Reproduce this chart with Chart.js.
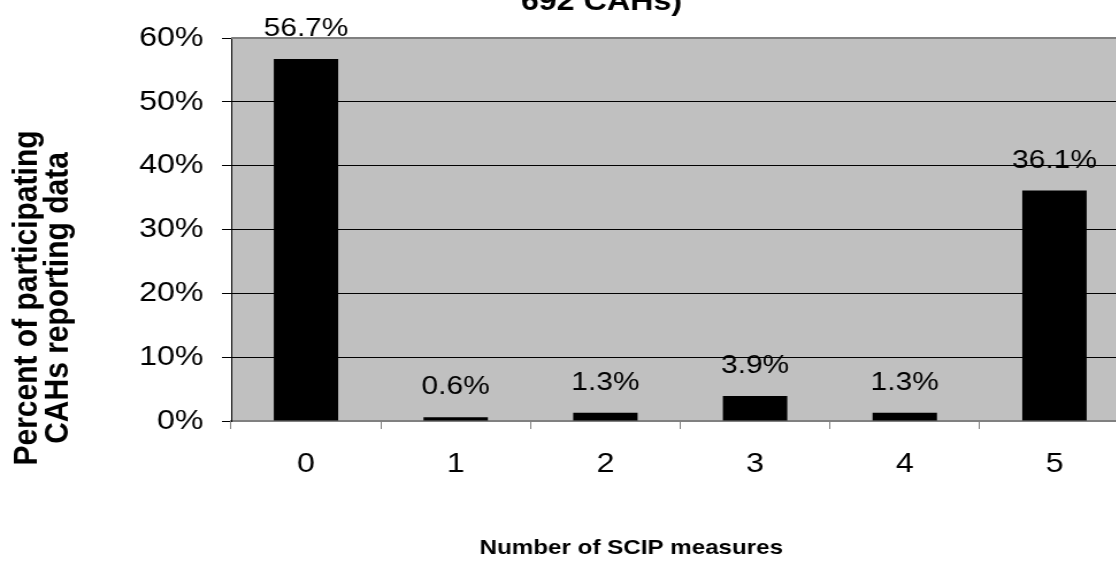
<!DOCTYPE html>
<html>
<head>
<meta charset="utf-8">
<script src="https://cdn.jsdelivr.net/npm/chart.js@4.4.0/dist/chart.umd.min.js"></script>
<style>
  html, body { margin: 0; padding: 0; background: #fff; overflow: hidden; }
  /* the original picture is stretched sideways, so draw narrow and stretch */
  #wrap { width: 983px; height: 562px; transform: scaleX(1.15); transform-origin: 0 0; }
</style>
</head>
<body>
<div id="wrap"><canvas id="chart"></canvas></div>
<script>
// data
const categories = ["0", "1", "2", "3", "4", "5"];
const percentValues = [56.7, 0.6, 1.3, 3.9, 1.3, 36.1];
const yTicks = [0, 10, 20, 30, 40, 50, 60];
const titleTail = "692 CAHs)";
const xTitle = "Number of SCIP measures";
const yTitle = ["Percent of participating", "CAHs reporting data"];

const FONT = "'Liberation Sans', Arial, sans-serif";

// grey plot area, value labels, cut-off title and the axis titles
const extras = {
  id: "extras",
  beforeDraw(chart) {
    const { ctx, chartArea: a } = chart;
    ctx.save();
    ctx.fillStyle = "#c0c0c0";
    ctx.fillRect(a.left, a.top, a.right - a.left, a.bottom - a.top);
    ctx.restore();
  },
  afterDatasetsDraw(chart) {
    const { ctx, chartArea: a } = chart;
    ctx.save();
    ctx.strokeStyle = "#808080";
    ctx.lineWidth = 2;
    ctx.beginPath();
    ctx.moveTo(a.left, a.top);
    ctx.lineTo(a.right, a.top);
    ctx.stroke();
    ctx.restore();

    const meta = chart.getDatasetMeta(0);
    ctx.save();
    ctx.fillStyle = "#000";
    ctx.font = "26px " + FONT;
    ctx.textAlign = "center";
    ctx.textBaseline = "alphabetic";
    meta.data.forEach((bar, i) => {
      ctx.fillText(percentValues[i].toFixed(1) + "%", bar.x, bar.y - 23);
    });
    ctx.restore();

    ctx.save();
    ctx.fillStyle = "#000";
    ctx.textAlign = "center";
    ctx.font = "bold 28px " + FONT;
    ctx.fillText(titleTail, 523, 10);
    ctx.font = "bold 21px " + FONT;
    ctx.fillText(xTitle, 549, 554);
    ctx.restore();

    // y title sits lower than the middle of the plot in the original
    ctx.save();
    ctx.fillStyle = "#000";
    ctx.textAlign = "center";
    ctx.textBaseline = "middle";
    ctx.font = "bold 30px " + FONT;
    ctx.translate(0, 298);
    ctx.rotate(-Math.PI / 2);
    ctx.fillText(yTitle[0], 0, 24);
    ctx.fillText(yTitle[1], 0, 51);
    ctx.restore();
  }
};

new Chart(document.getElementById("chart"), {
  type: "bar",
  plugins: [extras],
  data: {
    labels: categories,
    datasets: [{
      data: percentValues,
      backgroundColor: "#000",
      borderWidth: 0,
      barPercentage: 0.43,
      categoryPercentage: 1
    }]
  },
  options: {
    responsive: true,
    maintainAspectRatio: false,
    animation: false,
    layout: { padding: { top: 38, right: 1, bottom: 0, left: 0 } },
    plugins: {
      legend: { display: false },
      tooltip: { enabled: false }
    },
    scales: {
      x: {
        offset: true,
        grid: {
          offset: true,
          drawOnChartArea: false,
          drawTicks: true,
          tickLength: 8,
          color: "#808080"
        },
        border: { color: "#808080", width: 2 },
        ticks: {
          color: "#000",
          font: { family: FONT, size: 28 },
          padding: 18,
          maxRotation: 0
        },
        afterFit: s => { s.height = 141; }
      },
      y: {
        min: 0,
        max: 60,
        afterBuildTicks: s => { s.ticks = yTicks.map(v => ({ value: v })); },
        grid: {
          color: "#000",
          lineWidth: 1,
          tickLength: 8,
          tickColor: "#000"
        },
        border: { color: "#000", width: 1 },
        ticks: {
          color: "#000",
          font: { family: FONT, size: 28 },
          padding: 16,
          callback: v => v + "%"
        },
        afterFit: s => { s.width = 201; }
      }
    }
  }
});
</script>
</body>
</html>
